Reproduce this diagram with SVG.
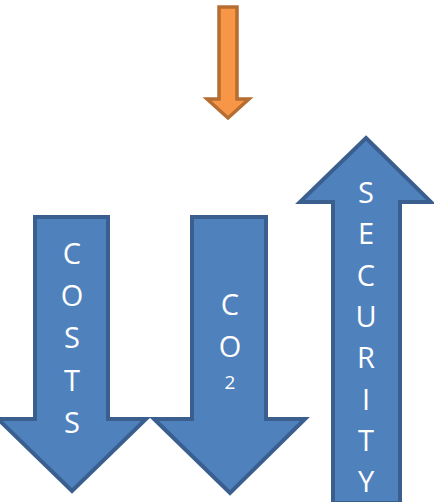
<svg xmlns="http://www.w3.org/2000/svg" width="434" height="502" viewBox="0 0 434 502">
<style>
.blue{fill:#4f81bd;stroke:#3a5f8f;stroke-width:4;stroke-linejoin:miter}
.orange{fill:#f79646;stroke:#b66d31;stroke-width:3.5}
.t{fill:#ffffff;font-family:"Open Sans","Liberation Sans",Arial,sans-serif;font-size:29px;text-anchor:middle}
.s{font-size:19px}
</style>
<rect width="434" height="502" fill="#ffffff"/>
<g id="orange-arrow">
<polygon class="orange" points="219,7 237,7 237,99 249,99 228,118 207,99 219,99"/>
</g>
<g id="costs">
<polygon class="blue" points="35,217 108,217 108,419 146,419 72,491 -2,419 35,419"/>
<text class="t" x="72" y="264">C</text>
<text class="t" x="72" y="306">O</text>
<text class="t" x="72" y="348">S</text>
<text class="t" x="72" y="391">T</text>
<text class="t" x="72" y="433">S</text>
</g>
<g id="co2">
<polygon class="blue" points="192,217 266,217 266,419 305,419 230,493 154,419 192,419"/>
<text class="t" x="230" y="315">C</text>
<text class="t" x="230" y="357">O</text>
<text class="t s" x="230" y="389">2</text>
</g>
<g id="security">
<polygon class="blue" points="366,138 431,202 400,202 400,503 333,503 333,202 300,202"/>
<text class="t" x="366" y="203">S</text>
<text class="t" x="366" y="244">E</text>
<text class="t" x="366" y="286">C</text>
<text class="t" x="366" y="327">U</text>
<text class="t" x="366" y="368">R</text>
<text class="t" x="366" y="410">I</text>
<text class="t" x="366" y="451">T</text>
<text class="t" x="366" y="492">Y</text>
</g>
<g id="connectors"></g>
</svg>
